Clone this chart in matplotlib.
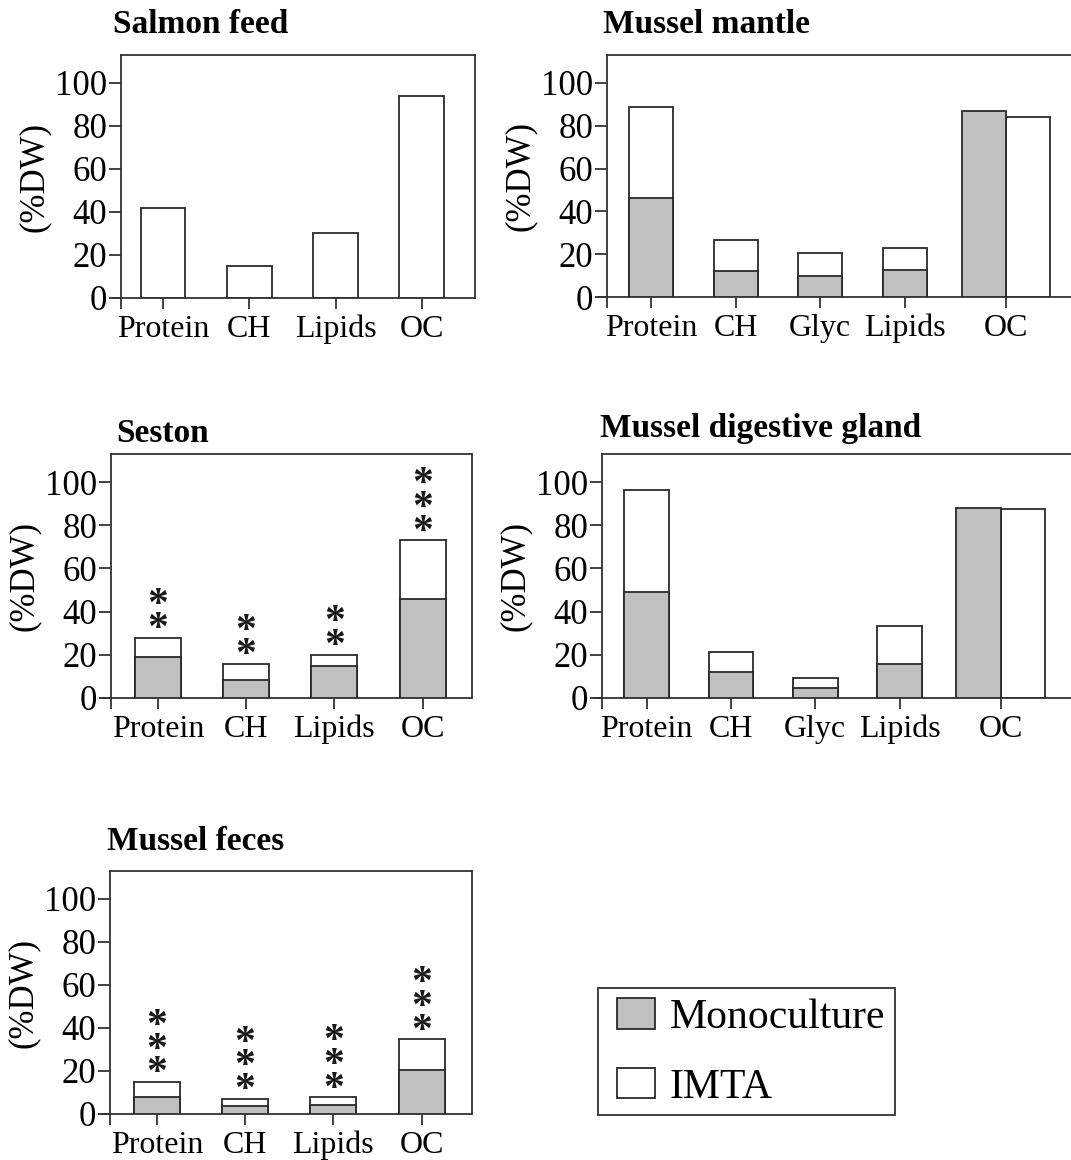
import matplotlib.pyplot as plt
from matplotlib.patches import Patch, Rectangle

plt.rcParams['font.family'] = ['Liberation Serif', 'DejaVu Serif']

W, H = 1071, 1160

# ---- data (%DW) ----
salmon_cats = ["Protein", "CH", "Lipids", "OC"]
salmon_vals = [42, 15, 30, 94]

mantle_cats = ["Protein", "CH", "Glyc", "Lipids", "OC"]
mantle_mono = [46.3, 12.2, 9.9, 12.7, 87]
mantle_imta = [88.7, 26.6, 20.6, 22.8, 84.2]

seston_cats = ["Protein", "CH", "Lipids", "OC"]
seston_mono = [19, 8.4, 15, 46]
seston_imta = [28, 15.8, 20, 73]
seston_stars = [2, 2, 2, 3]

gland_cats = ["Protein", "CH", "Glyc", "Lipids", "OC"]
gland_mono = [49.2, 12, 4.8, 15.8, 88]
gland_imta = [96.3, 21.5, 9.2, 33.2, 87.4]

feces_cats = ["Protein", "CH", "Lipids", "OC"]
feces_mono = [8, 3.7, 4.3, 20.4]
feces_imta = [14.8, 7, 7.7, 34.7]
feces_stars = [3, 3, 3, 3]

GRAY = "#c0c0c0"
EDGE = "#2a2a2a"
AX = "#333333"
FS = 23

fig = plt.figure(figsize=(W / 100, H / 100), dpi=100)


def make_ax(left, right, top, bottom):
    ax = fig.add_axes([left / W, 1 - bottom / H, (right - left) / W, (bottom - top) / H])
    for s in ax.spines.values():
        s.set_color(AX)
        s.set_linewidth(1.3)
    ax.set_ylim(0, 113)
    ax.set_yticks([0, 20, 40, 60, 80, 100])
    ax.tick_params(axis="y", length=9, width=1.3, pad=1, labelsize=FS + 2, color=AX)
    ax.tick_params(axis="x", length=8, width=1.3, pad=4, labelsize=FS, color=AX)
    ax.set_ylabel("(%DW)", fontsize=FS + 2, labelpad=3)
    # x axis line runs a bit past the left spine
    ax.plot([-9 / (right - left), 0], [0, 0], transform=ax.transAxes, color=AX, lw=1.3,
            clip_on=False, solid_capstyle="butt")
    return ax


def title(text, x, y):
    fig.text(x / W, 1 - y / H, text, fontsize=FS + 1, fontweight="bold", va="baseline")


def overlay(ax, x, mono, imta, width):
    ax.bar(x, imta, width, color="white", edgecolor=EDGE, linewidth=1.3, zorder=2)
    ax.bar(x, mono, width, color=GRAY, edgecolor=EDGE, linewidth=1.3, zorder=3)


def stars(ax, x, tops, counts, gap=-1):
    for xi, top, n in zip(x, tops, counts):
        ax.text(xi, top + gap, "\n".join(["*"] * n), ha="center", va="baseline",
                fontsize=30, fontweight="bold", linespacing=0.51, color="#1a1a1a")


def left_tick(ax):
    ax.set_xticks([ax.get_xlim()[0]], minor=True)
    ax.tick_params(axis="x", which="minor", length=8, width=1.3, color=AX)


# ---- Salmon feed ----
ax1 = make_ax(121, 475, 55, 298)
x4 = list(range(len(salmon_cats)))
ax1.bar(x4, salmon_vals, 0.52, color="white", edgecolor=EDGE, linewidth=1.3, zorder=2)
ax1.set_xlim(-0.487, 3.615)
ax1.set_xticks(x4, salmon_cats)
left_tick(ax1)
title("Salmon feed", 113, 33)

# ---- Mussel mantle ----
ax2 = make_ax(607, 1080, 55, 297)
w5 = 0.52
xs = list(range(len(mantle_cats) - 1))
overlay(ax2, xs, mantle_mono[:-1], mantle_imta[:-1], w5)
oc = 4.19
ax2.bar(oc - w5 / 2, mantle_mono[-1], w5, color=GRAY, edgecolor=EDGE, linewidth=1.3, zorder=3)
ax2.bar(oc + w5 / 2, mantle_imta[-1], w5, color="white", edgecolor=EDGE, linewidth=1.3, zorder=2)
ax2.set_xlim(-0.52, 5.07)
ax2.set_xticks(xs + [oc], mantle_cats)
left_tick(ax2)
title("Mussel mantle", 603, 33)

# ---- Seston ----
ax3 = make_ax(111, 472, 454, 698)
overlay(ax3, x4, seston_mono, seston_imta, 0.52)
stars(ax3, x4, seston_imta, seston_stars)
ax3.set_xlim(-0.53, 3.56)
ax3.set_xticks(x4, seston_cats)
left_tick(ax3)
title("Seston", 116, 442)

# ---- Mussel digestive gland ----
ax4 = make_ax(602, 1080, 454, 698)
w5 = 0.53
overlay(ax4, xs, gland_mono[:-1], gland_imta[:-1], w5)
oc = 4.2
ax4.bar(oc - w5 / 2, gland_mono[-1], w5, color=GRAY, edgecolor=EDGE, linewidth=1.3, zorder=3)
ax4.bar(oc + w5 / 2, gland_imta[-1], w5, color="white", edgecolor=EDGE, linewidth=1.3, zorder=2)
ax4.set_xlim(-0.53, 5.14)
ax4.set_xticks(xs + [oc], gland_cats)
left_tick(ax4)
title("Mussel digestive gland", 600, 437)

# ---- Mussel feces ----
ax5 = make_ax(110, 472, 871, 1114)
overlay(ax5, x4, feces_mono, feces_imta, 0.52)
stars(ax5, x4, feces_imta, feces_stars)
ax5.set_xlim(-0.53, 3.57)
ax5.set_xticks(x4, feces_cats)
left_tick(ax5)
title("Mussel feces", 107, 850)

# ---- legend (frame drawn separately so the content sits further in) ----
fig.add_artist(Rectangle((598 / W, 1 - 1115 / H), 297 / W, 127 / H, transform=fig.transFigure,
                         fill=False, edgecolor=AX, linewidth=1.3))
handles = [Patch(facecolor=GRAY, edgecolor=EDGE, linewidth=1.3, label="Monoculture"),
           Patch(facecolor="white", edgecolor=EDGE, linewidth=1.3, label="IMTA")]
fig.legend(handles=handles, loc="upper left", mode="expand",
           bbox_to_anchor=(607 / W, 1 - 1115 / H, 288 / W, 127 / H),
           fontsize=30, frameon=False, borderaxespad=0, borderpad=0.25,
           handlelength=0.9, handleheight=0.74, handletextpad=0.35, labelspacing=0.74)

fig.savefig("out.png", dpi=100)
